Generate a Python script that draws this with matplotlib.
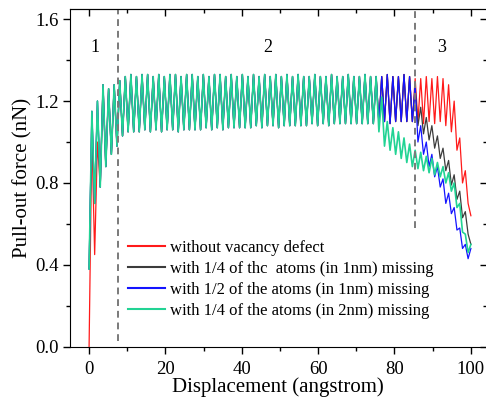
import matplotlib
matplotlib.use("Agg")
import matplotlib.pyplot as plt
from matplotlib.ticker import MultipleLocator
import numpy as np

plt.rcParams['font.family'] = ['Liberation Serif', 'DejaVu Serif']
plt.rcParams['mathtext.fontset'] = 'stix'

# Stick-slip turning points of the pull-out force (nN), sampled every half period
x_start = 0.0      # angstrom
half_period = 0.73 # angstrom

# common part of all four runs (0 - 75 angstrom)
base_force = [
    0.38, 1.15, 0.70, 1.20, 0.78, 1.28, 0.88, 1.26, 0.94, 1.28,
    0.98, 1.30, 1.03, 1.32, 1.05, 1.33, 1.05, 1.32, 1.05, 1.33,
    1.06, 1.33, 1.05, 1.32, 1.06, 1.33, 1.05, 1.32, 1.06, 1.33,
    1.06, 1.33, 1.05, 1.32, 1.06, 1.33, 1.06, 1.33, 1.06, 1.32,
    1.06, 1.33, 1.07, 1.32, 1.06, 1.33, 1.07, 1.33, 1.06, 1.32,
    1.07, 1.33, 1.07, 1.32, 1.07, 1.33, 1.07, 1.32, 1.07, 1.33,
    1.08, 1.32, 1.07, 1.33, 1.08, 1.32, 1.08, 1.33, 1.07, 1.32,
    1.08, 1.33, 1.08, 1.32, 1.08, 1.33, 1.08, 1.32, 1.08, 1.32,
    1.09, 1.33, 1.08, 1.32, 1.09, 1.32, 1.08, 1.33, 1.09, 1.32,
    1.09, 1.32, 1.09, 1.33, 1.09, 1.32, 1.09, 1.32, 1.09, 1.33,
    1.09, 1.32, 1.09, 1.32,
]
# first turning points of the defect-free run
red_start = [0.00, 1.03, 0.45, 1.00, 0.78]
# 75 - 85 angstrom, shared by the runs that keep full amplitude
mid_force = [1.09, 1.32, 1.10, 1.33, 1.09, 1.32, 1.10, 1.32, 1.10, 1.33, 1.10, 1.32, 1.10]

red_tail = [1.31, 1.10, 1.31, 1.09, 1.32, 1.10, 1.31, 1.09, 1.32, 1.10, 1.31,
            1.08, 1.28, 1.05, 1.20, 0.96, 1.02, 0.80, 0.86, 0.70, 0.64]
black_tail = [1.26, 1.08, 1.17, 1.04, 1.12, 1.01, 1.08, 0.97, 1.03, 0.92, 0.97,
              0.86, 0.91, 0.79, 0.84, 0.72, 0.76, 0.63, 0.66, 0.55, 0.50]
blue_tail = [1.28, 1.00, 1.08, 0.94, 1.00, 0.88, 0.94, 0.83, 0.88, 0.78, 0.82,
             0.70, 0.75, 0.65, 0.68, 0.57, 0.58, 0.48, 0.50, 0.43, 0.48]
green_tail = [1.05, 1.22, 0.98, 1.10, 0.96, 1.07, 0.94, 1.05, 0.92, 1.02,
              0.90, 0.99, 0.88, 0.96, 0.87, 0.95, 0.86, 0.93, 0.85, 0.92,
              0.84, 0.90, 0.83, 0.88, 0.80, 0.85, 0.76, 0.80, 0.68, 0.70,
              0.56, 0.55, 0.46, 0.50]

series = [
    ("without vacancy defect", "#ff1a1a", 0.9,
     red_start + base_force[len(red_start):] + mid_force + red_tail),
    ("with 1/4 of thc  atoms (in 1nm) missing", "#3c3c3c", 0.9,
     base_force + mid_force + black_tail),
    ("with 1/2 of the atoms (in 1nm) missing", "#1414ff", 0.9,
     base_force + mid_force + blue_tail),
    ("with 1/4 of the atoms (in 2nm) missing", "#22d394", 1.2,
     base_force + green_tail),
]

region_bounds = [7.5, 85.5]
region_bottoms = [0.03, 0.58]
region_labels = ["1", "2", "3"]
region_label_x = [1.6, 46.7, 92.3]

fig = plt.figure(figsize=(4.86, 3.99), dpi=100)
ax = fig.add_axes([70 / 486, 52.3 / 399, 416.5 / 486, 337.7 / 399])

for label, color, lw, force in series:
    force = np.array(force)
    disp = x_start + half_period * np.arange(len(force))
    ax.plot(disp, force, color=color, lw=lw, label=label)

for xb, yb in zip(region_bounds, region_bottoms):
    ax.plot([xb, xb], [yb, 1.65], color="#7a7a7a", lw=1.4,
            linestyle=(0, (3.5, 2.5)))

for txt, xl in zip(region_labels, region_label_x):
    ax.text(xl, 1.46, txt, fontsize=13, ha="center", va="center")

ax.set_xlim(-5, 104.1)
ax.set_ylim(0, 1.65)
ax.xaxis.set_major_locator(MultipleLocator(20))
ax.xaxis.set_minor_locator(MultipleLocator(10))
ax.yaxis.set_major_locator(MultipleLocator(0.4))
ax.yaxis.set_minor_locator(MultipleLocator(0.2))
ax.yaxis.set_major_formatter(plt.FormatStrFormatter("%.1f"))
ax.tick_params(which="major", direction="out", length=5, width=1, labelsize=13.5, pad=3)
ax.tick_params(which="minor", direction="out", length=3, width=1)
ax.tick_params(axis="x", pad=5)

top = ax.secondary_xaxis("top")
top.xaxis.set_major_locator(MultipleLocator(20))
top.xaxis.set_minor_locator(MultipleLocator(10))
top.tick_params(which="major", direction="in", length=5, width=1, labeltop=False)
top.tick_params(which="minor", direction="in", length=3, width=1)
right = ax.secondary_yaxis("right")
right.yaxis.set_major_locator(MultipleLocator(0.4))
right.yaxis.set_minor_locator(MultipleLocator(0.2))
right.tick_params(which="major", direction="in", length=5, width=1, labelright=False)
right.tick_params(which="minor", direction="in", length=3, width=1)

ax.set_xlabel("Displacement (angstrom)", fontsize=15, labelpad=0)
ax.set_ylabel("Pull-out force (nN)", fontsize=15, labelpad=2)

leg = ax.legend(loc="upper left", bbox_to_anchor=(0.124, 0.335), frameon=False,
                fontsize=12, handlelength=2.2, handletextpad=0.3,
                labelspacing=0.3, borderaxespad=0)
for h in leg.get_lines():
    h.set_linewidth(1.5)

fig.savefig("out.png", dpi=100)
